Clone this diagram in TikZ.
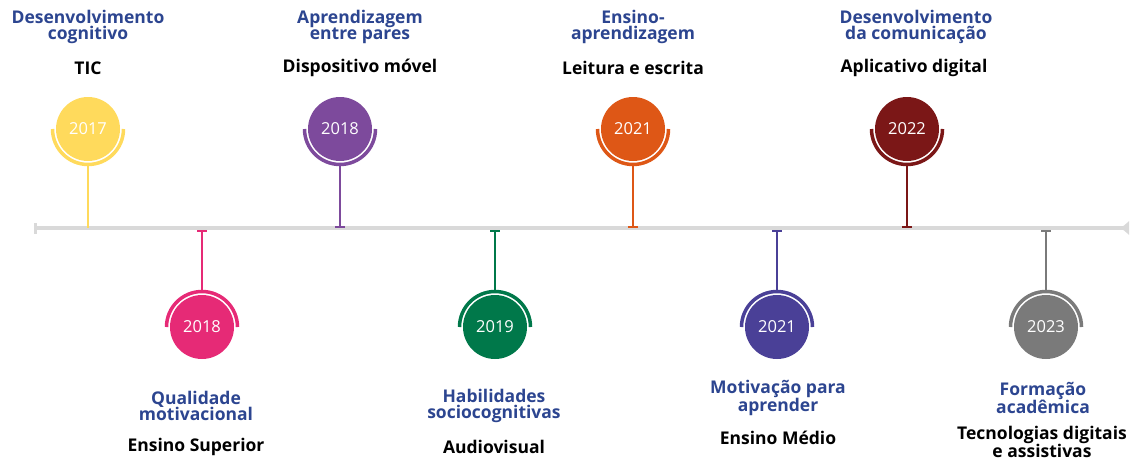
\documentclass[tikz,border=0pt]{standalone}
\usepackage{fontspec}
\setmainfont{Open Sans}
\usetikzlibrary{arrows.meta}
\definecolor{cyellow}{HTML}{FFDA5C}
\definecolor{cpink}{HTML}{E62A76}
\definecolor{cpurple}{HTML}{7D4A9C}
\definecolor{cgreen}{HTML}{00784A}
\definecolor{corange}{HTML}{DE5716}
\definecolor{cindigo}{HTML}{4A4097}
\definecolor{cdarkred}{HTML}{7B1717}
\definecolor{cgray}{HTML}{7A7A7A}
\definecolor{lblue}{HTML}{2C4590}
\definecolor{axisgray}{HTML}{D9D9D9}
\tikzset{
  yearnode/.style={circle, minimum size=64pt, inner sep=0pt, fill=#1, text=white,
    font=\fontsize{16.5}{16.5}\selectfont},
  ringarc/.style={draw=#1, line width=3.5pt},
  stem/.style={draw=#1, line width=2.8pt},
  topic/.style={align=center, inner sep=0pt, text=lblue,
    font=\bfseries\fontsize{17.5}{16.8}\selectfont},
  field/.style={align=center, inner sep=0pt, text=black,
    font=\bfseries\fontsize{17.5}{16.8}\selectfont},
}
\begin{document}
\begin{tikzpicture}[x=1pt,y=-1pt]
\useasboundingbox (0,0) rectangle (1130,460);
% axis
\coordinate (axL) at (34,228);
\coordinate (axR) at (1129,228);
\draw[axisgray, line width=3.5pt, {Bar[width=11pt,line width=3pt]}-{Triangle[reversed,length=8pt,width=13pt]}] (axL) -- (axR);

% ---------- top events ----------
% 1: 2017
\coordinate (t1) at (88,228);
\node[yearnode=cyellow] (c1) at (88,129) {2017};
\draw[ringarc=cyellow] ([shift={(c1.center)}]180:35.5pt) arc[start angle=180,end angle=360,radius=35.5pt];
\coordinate (a1) at ([yshift=-37pt]c1.center);
\draw[stem=cyellow] (a1) -- (t1);
\node[topic] (h1) at (88,27) {Desenvolvimento\\cognitivo};
\node[field] (f1) at (88,68) {TIC};

% 3: 2018 purple
\coordinate (t3) at (340,228);
\node[yearnode=cpurple] (c3) at (340,129) {2018};
\draw[ringarc=cpurple] ([shift={(c3.center)}]180:35.5pt) arc[start angle=180,end angle=360,radius=35.5pt];
\coordinate (a3) at ([yshift=-37pt]c3.center);
\draw[stem=cpurple, -{Bar[width=10pt,line width=2pt]}] (a3) -- (t3);
\node[topic] (h3) at (360,27) {Aprendizagem\\entre pares};
\node[field] (f3) at (360,68) {Dispositivo móvel};

% 5: 2021 orange
\coordinate (t5) at (633,228);
\node[yearnode=corange] (c5) at (633,129) {2021};
\draw[ringarc=corange] ([shift={(c5.center)}]180:35.5pt) arc[start angle=180,end angle=360,radius=35.5pt];
\coordinate (a5) at ([yshift=-37pt]c5.center);
\draw[stem=corange, -{Bar[width=10pt,line width=2pt]}] (a5) -- (t5);
\node[topic] (h5) at (633,27) {Ensino-\\aprendizagem};
\node[field] (f5) at (633,68) {Leitura e escrita};

% 7: 2022 dark red
\coordinate (t7) at (907,228);
\node[yearnode=cdarkred] (c7) at (907,129) {2022};
\draw[ringarc=cdarkred] ([shift={(c7.center)}]180:35.5pt) arc[start angle=180,end angle=360,radius=35.5pt];
\coordinate (a7) at ([yshift=-37pt]c7.center);
\draw[stem=cdarkred, -{Bar[width=10pt,line width=2pt]}] (a7) -- (t7);
\node[topic] (h7) at (916,27) {Desenvolvimento\\da comunicação};
\node[field] (f7) at (914,68) {Aplicativo digital};

% ---------- bottom events ----------
% 2: 2018 pink
\coordinate (t2) at (202,230);
\node[yearnode=cpink] (c2) at (202,327) {2018};
\draw[ringarc=cpink] ([shift={(c2.center)}]0:35.5pt) arc[start angle=0,end angle=180,radius=35.5pt];
\coordinate (a2) at ([yshift=37pt]c2.center);
\draw[stem=cpink, {Bar[width=10pt,line width=2pt]}-] (t2) -- (a2);
\node[topic] (h2) at (196,406) {Qualidade\\motivacional};
\node[field] (f2) at (196,447) {Ensino Superior};

% 4: 2019 green
\coordinate (t4) at (495,230);
\node[yearnode=cgreen] (c4) at (495,327) {2019};
\draw[ringarc=cgreen] ([shift={(c4.center)}]0:35.5pt) arc[start angle=0,end angle=180,radius=35.5pt];
\coordinate (a4) at ([yshift=37pt]c4.center);
\draw[stem=cgreen, {Bar[width=10pt,line width=2pt]}-] (t4) -- (a4);
\node[topic] (h4) at (494,406) {Habilidades\\sociocognitivas};
\node[field] (f4) at (494,447) {Audiovisual};

% 6: 2021 indigo
\coordinate (t6) at (777,230);
\node[yearnode=cindigo] (c6) at (777,327) {2021};
\draw[ringarc=cindigo] ([shift={(c6.center)}]0:35.5pt) arc[start angle=0,end angle=180,radius=35.5pt];
\coordinate (a6) at ([yshift=37pt]c6.center);
\draw[stem=cindigo, {Bar[width=10pt,line width=2pt]}-] (t6) -- (a6);
\node[topic] (h6) at (778,398) {Motivação para\\aprender};
\node[field] (f6) at (778,438) {Ensino Médio};

% 8: 2023 gray
\coordinate (t8) at (1046,230);
\node[yearnode=cgray] (c8) at (1046,327) {2023};
\draw[ringarc=cgray] ([shift={(c8.center)}]0:35.5pt) arc[start angle=0,end angle=180,radius=35.5pt];
\coordinate (a8) at ([yshift=37pt]c8.center);
\draw[stem=cgray, {Bar[width=10pt,line width=2pt]}-] (t8) -- (a8);
\node[topic] (h8) at (1043,398) {Formação\\acadêmica};
\node[field] (f8) at (1042,442) {Tecnologias digitais\\e assistivas};
\end{tikzpicture}
\end{document}
